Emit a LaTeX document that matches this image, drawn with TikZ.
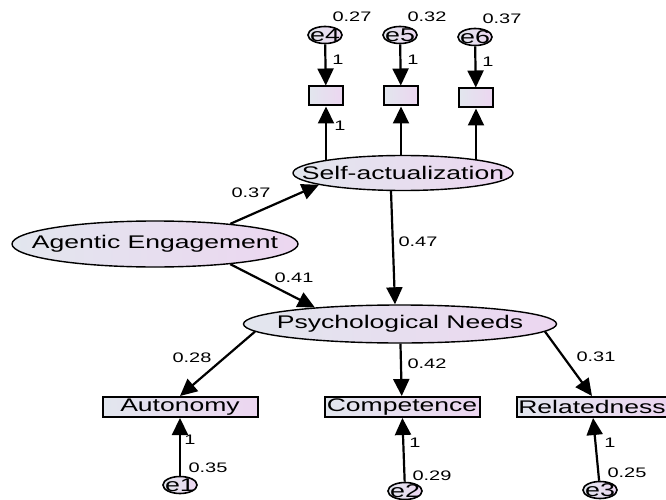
\documentclass[tikz,border=0pt]{standalone}
\usepackage{fontspec}
\setmainfont{Liberation Sans}[FakeStretch=1.45]
\usetikzlibrary{shapes.geometric,arrows.meta,backgrounds}

\definecolor{amosleft}{RGB}{226,230,238}
\definecolor{amosright}{RGB}{236,214,240}
\newcommand{\latentfont}{\fontsize{18.3}{20}\selectfont}
\newcommand{\errfont}{\fontsize{18.5}{18}\selectfont}

\tikzset{
	shaded/.style={draw, left color=amosleft, right color=amosright, inner sep=0pt},
	latent/.style={shaded, ellipse, line width=1.4pt, label={[font=\latentfont]center:#1}},
	errvar/.style={shaded, ellipse, line width=1.6pt, minimum width=34pt, minimum height=17pt, label={[font=\errfont]center:#1}},
	observed/.style={shaded, rectangle, line width=2pt, minimum width=155pt, minimum height=20pt, font=\latentfont},
	indbox/.style={shaded, rectangle, line width=2pt, minimum width=34pt, minimum height=19pt},
	regarrow/.style={-{Triangle[length=17pt,width=16pt]}, line width=2.2pt},
	coef/.style={inner sep=0pt, font=\fontsize{13.8}{14}\selectfont}
}

\begin{document}
\begin{tikzpicture}[x=1pt, y=-1pt]
	\useasboundingbox (0,0) rectangle (666,500);
	\clip (0,0) rectangle (666,500);
	% latent variables
	\node[latent=Agentic Engagement, minimum width=286pt, minimum height=46pt] (agentic) at (155,244) {};
	\node[latent=Self-actualization, minimum width=220pt, minimum height=35pt] (selfact) at (403,173) {};
	\node[latent=Psychological Needs, minimum width=313pt, minimum height=38pt] (psych) at (400,324) {};
	% observed needs
	\node[observed] (autonomy) at (180,407) {Autonomy};
	\node[observed] (competence) at (402,407) {Competence};
	\node[observed, minimum width=150pt] (relatedness) at (592,407) {Relatedness};
	\node[errvar=e1] (e1) at (180,485) {};
	\node[errvar=e2] (e2) at (405,491) {};
	\node[errvar=e3] (e3) at (600,490) {};
	% indicators of self-actualization
	\foreach \i/\x/\y/\v in {4/325/35/0.27, 5/400/35/0.32, 6/475/37/0.37}
	{
		\node[errvar=e\i] (e\i) at (\x,\y) {};
		\node[indbox] (box\i) at (\x+1,\y+61) {};
		\node[coef] (var\i) at (\x+27,\y-18) {\v};
		\node[coef] (load\i) at (\x+13,\y+25) {1};
		\draw[regarrow] (e\i) -- (box\i);
		\begin{scope}[on background layer]
			\draw[regarrow] (box\i |- selfact) -- (box\i);
		\end{scope}
	}
	\node[coef] (fix4) at (340,126) {1};
	% structural paths
	\draw[regarrow] (agentic.15) -- (selfact.188);
	\draw[regarrow] (agentic.345) -- (psych.169);
	\draw[regarrow] ([xshift=-12pt]selfact.south) -- ([xshift=-5pt]psych.north);
	\draw[regarrow] (psych.183) -- (autonomy.north);
	\draw[regarrow] (psych) -- (competence);
	\draw[regarrow] (psych.357) -- (relatedness.north);
	\draw[regarrow] (e1) -- (autonomy);
	\draw[regarrow] (e2) -- (competence);
	\draw[regarrow] (e3) -- (relatedness);
	\node[coef] (c037) at (251,193) {0.37};
	\node[coef] (c041) at (294,278) {0.41};
	\node[coef] (c047) at (418,242) {0.47};
	\node[coef] (c028) at (192,358) {0.28};
	\node[coef] (c042) at (427,364) {0.42};
	\node[coef] (c031) at (596,357) {0.31};
	% loadings and variances of the errors
	\node[coef] (fix1) at (190,440) {1};
	\node[coef] (var1) at (208,468) {0.35};
	\node[coef] (fix2) at (415,443) {1};
	\node[coef] (var2) at (432,476) {0.29};
	\node[coef] (fix3) at (610,443) {1};
	\node[coef] (var3) at (627,473) {0.25};
\end{tikzpicture}
\end{document}
